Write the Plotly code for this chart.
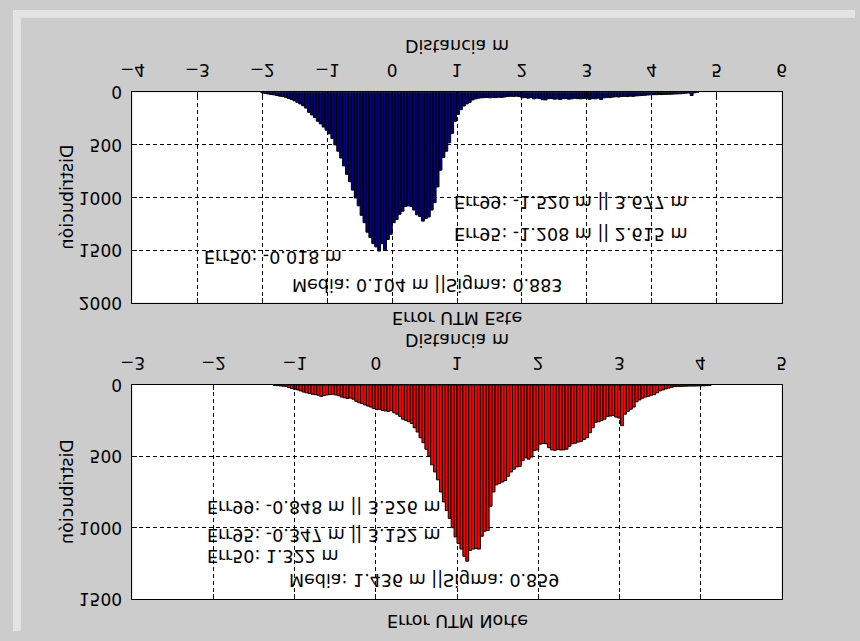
import plotly.graph_objects as go

# ---------------- data ----------------
este_start = -2.0
este_width = 0.045
este_counts = [
    4, 10, 15, 20, 24, 30, 36, 40, 47, 58,
    68, 80, 95, 110, 128, 150, 190, 215, 240, 275,
    300, 330, 360, 395, 440, 500, 560, 625, 700, 780,
    850, 930, 1005, 1080, 1170, 1240, 1330, 1380, 1440, 1470,
    1510, 1440, 1505, 1400, 1350, 1240, 1210, 1160, 1130, 1085,
    1080, 1085, 1120, 1165, 1180, 1225, 1200, 1185, 1120, 1050,
    900, 740, 620, 560, 480, 390, 275, 210, 165, 130,
    110, 95, 72, 62, 55, 52, 50, 48, 52, 47,
    50, 46, 48, 44, 40, 37, 38, 36, 40, 52,
    48, 55, 50, 62, 55, 58, 70, 72, 60, 58,
    65, 62, 68, 60, 58, 65, 62, 56, 60, 62,
    58, 55, 66, 60, 62, 55, 68, 52, 48, 50,
    45, 42, 44, 40, 38, 40, 36, 38, 34, 32,
    30, 28, 25, 24, 22, 22, 20, 21, 19, 18,
    18, 16, 15, 14, 12, 8, 6, 30, 4, 2,
]

norte_start = -1.25
norte_width = 0.036
norte_counts = [
    3, 5, 7, 9, 10, 18, 25, 30, 35, 42,
    50, 55, 60, 65, 68, 72, 80, 75, 70, 68,
    65, 70, 75, 85, 90, 95, 92, 100, 115, 125,
    130, 140, 148, 155, 165, 172, 170, 178, 182, 185,
    180, 195, 205, 220, 240, 248, 258, 270, 300, 330,
    370, 405, 450, 500, 560, 610, 665, 750, 820, 880,
    935, 1000, 1065, 1110, 1150, 1200, 1235, 1160, 1150, 1145,
    1150, 1060, 1025, 1020, 850, 750, 700, 690, 680, 670,
    640, 610, 590, 575, 570, 530, 510, 520, 505, 460,
    455, 415, 410, 412, 440, 455, 458, 452, 456, 455,
    450, 430, 412, 408, 400, 395, 382, 370, 335, 300,
    262, 258, 250, 240, 220, 218, 215, 225, 232, 285,
    205, 185, 170, 155, 118, 105, 93, 85, 80, 72,
    68, 55, 42, 35, 28, 22, 16, 12, 10, 10,
    9, 9, 8, 8, 8, 7, 7, 6, 5, 4,
]

este_ticks = [-4, -3, -2, -1, 0, 1, 2, 3, 4, 5, 6]
norte_ticks = [-3, -2, -1, 0, 1, 2, 3, 4, 5]
este_yticks = [0, 500, 1000, 1500, 2000]
norte_yticks = [0, 500, 1000, 1500]

este_texts = [
    (0.92, 1041, "Err99: -1.520 m || 3.677 m"),
    (0.92, 1352, "Err95: -1.208 m || 2.615 m"),
    (-2.93, 1567, "Err50: -0.018 m"),
    (-1.57, 1834, "Media: 0.104 m ||Sigma: 0.883"),
]
norte_texts = [
    (-2.1, 857, "Err99: -0.848 m || 3.526 m"),
    (-2.1, 1050, "Err95: -0.347 m || 3.152 m"),
    (-2.1, 1197, "Err50: 1.322 m"),
    (-1.09, 1366, "Media: 1.436 m ||Sigma: 0.859"),
]

# ---------------- figure ----------------
W, H = 860, 641
FONT = "DejaVu Sans"

este_x = [este_start + este_width * i for i in range(len(este_counts))]
norte_x = [norte_start + norte_width * i for i in range(len(norte_counts))]

fig = go.Figure()
fig.add_bar(x=este_x, y=este_counts, width=este_width,
            marker=dict(color="#000080", line=dict(color="black", width=1)),
            xaxis="x", yaxis="y", hoverinfo="skip")
fig.add_bar(x=norte_x, y=norte_counts, width=norte_width,
            marker=dict(color="#ff0000", line=dict(color="black", width=1)),
            xaxis="x2", yaxis="y2", hoverinfo="skip")

axis_common = dict(
    showgrid=True, gridcolor="black", griddash="4px,3px", gridwidth=1,
    showline=True, linecolor="black", linewidth=1, mirror="ticks",
    ticks="inside", ticklen=5, tickcolor="black", zeroline=False,
    tickfont=dict(family=FONT, size=17, color="black"),
)
xax = dict(axis_common, ticklabelstandoff=7)
yax = dict(axis_common, ticklabelstandoff=6)

x_dom = [122 / W, 785 / W]
fig.update_layout(
    width=W, height=H,
    margin=dict(l=0, r=0, t=0, b=0),
    paper_bgcolor="#cccccc", plot_bgcolor="white",
    showlegend=False, bargap=0,
    xaxis=dict(domain=x_dom, range=[-4, 6], tickvals=este_ticks, anchor="y", **xax),
    yaxis=dict(domain=[85 / H, 302 / H], range=[0, 2000], tickvals=este_yticks, anchor="x", **yax),
    xaxis2=dict(domain=x_dom, range=[-3, 5], tickvals=norte_ticks, anchor="y2", **xax),
    yaxis2=dict(domain=[387 / H, 608 / H], range=[0, 1500], tickvals=norte_yticks, anchor="x2", **yax),
)

ann = []
tf = dict(family=FONT, size=17.5, color="black")
lf = dict(family=FONT, size=17.5, color="black")
for x, y, t in este_texts:
    ann.append(dict(x=x, y=y, xref="x", yref="y", text=t, showarrow=False,
                    xanchor="left", yanchor="middle", font=tf))
for x, y, t in norte_texts:
    ann.append(dict(x=x, y=y, xref="x2", yref="y2", text=t, showarrow=False,
                    xanchor="left", yanchor="middle", font=tf))

xc = (122 + 785) / 2 / W
labels = [
    (xc, 37, "Distancia m", 0),
    (xc, 318, "Error UTM Este", 0),
    (xc, 341, "Distancia m", 0),
    (xc, 631, "Error UTM Norte", 0),
    (55 / W, 193.5, "Distribución", -90),
    (55 / W, 497.5, "Distribución", -90),
]
for x, y, t, a in labels:
    ann.append(dict(x=x, y=y / H, xref="paper", yref="paper", text=t, showarrow=False,
                    xanchor="center", yanchor="middle", textangle=a, font=lf,
                    borderpad=0))
fig.update_layout(annotations=ann)

# window frame (light strips)
fig.update_layout(shapes=[
    dict(type="rect", xref="paper", yref="paper", x0=0, x1=1, y0=0, y1=8 / H,
         fillcolor="#e4e4e4", line=dict(width=0), layer="below"),
    dict(type="rect", xref="paper", yref="paper", x0=0, x1=8 / W, y0=0, y1=1,
         fillcolor="#e4e4e4", line=dict(width=0), layer="below"),
])

post = ("var gd=document.getElementById('{plot_id}');"
        "gd.style.transform='scaleY(-1)';"
        "document.body.style.margin='0';"
        "document.body.style.overflow='hidden';")
fig.write_html("out.html", config={"displayModeBar": False, "staticPlot": True},
               post_script=post)
